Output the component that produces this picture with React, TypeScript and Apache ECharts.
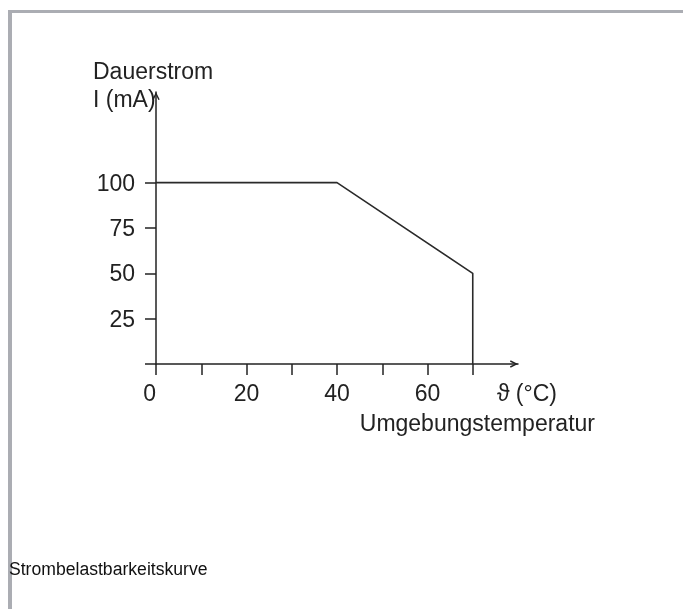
import React, { useEffect, useRef } from "react";
import * as echarts from "echarts";

const temperature = [0, 40, 70, 70];
const current = [100, 100, 50, 0];
const xTickValues = [0, 10, 20, 30, 40, 50, 60, 70];
const xLabelValues = [0, 20, 40, 60];
const yTickValues = [0, 25, 50, 75, 100];
const yLabelValues = [25, 50, 75, 100];
const yName = ["Dauerstrom", "I (mA)"];
const xName = ["ϑ (°C)", "Umgebungstemperatur"];
const caption = "Strombelastbarkeitskurve";

const FONT = "'Liberation Sans', Arial, sans-serif";
const INK = "#222";
const ARROW = "path://M0,10 L5,0 L10,10 L8.2,10.8 L5,4.2 L1.8,10.8 Z";

export default function App() {
  const ref = useRef<HTMLDivElement>(null);
  useEffect(() => {
    if (!ref.current) return;
    const chart = echarts.init(ref.current, null, { renderer: "svg" });
    const data = temperature.map((t, i) => [t, current[i]]);
    chart.setOption({
      animation: false,
      title: {
        text: caption,
        left: 9,
        top: 560,
        padding: 0,
        textStyle: { fontFamily: FONT, fontSize: 17.6, fontWeight: "normal", color: "#111" },
      },
      grid: { left: 156, top: 92, width: 362, height: 272, containLabel: false },
      xAxis: {
        type: "value",
        min: 0,
        max: 80,
        interval: 10,
        name: `{a|${xName[0]}}\n{b|${xName[1]}}`,
        nameLocation: "end",
        nameGap: 77,
        nameMoveOverlap: false,
        nameTextStyle: {
          align: "right",
          verticalAlign: "top",
          padding: [14, 0, 0, 0],
          fontFamily: FONT,
          color: INK,
          rich: {
            a: { fontFamily: FONT, fontSize: 23, lineHeight: 30, color: INK, padding: [0, 38, 0, 0] },
            b: { fontFamily: FONT, fontSize: 23, lineHeight: 30, color: INK },
          },
        },
        axisLine: {
          lineStyle: { color: INK, width: 1.5 },
          symbol: ["none", ARROW],
          symbolSize: [12, 8],
          symbolOffset: [0, -4],
        },
        axisTick: { show: true, length: 11, customValues: xTickValues, lineStyle: { color: INK, width: 1.5 } },
        axisLabel: {
          customValues: xLabelValues,
          margin: 17,
          fontFamily: FONT,
          fontSize: 23,
          color: INK,
          alignMinLabel: "right",
        },
        splitLine: { show: false },
      },
      yAxis: {
        type: "value",
        min: 0,
        max: 150,
        interval: 25,
        name: `{a|${yName[0]}}\n{a|${yName[1]}}`,
        nameLocation: "end",
        nameGap: -21,
        nameMoveOverlap: false,
        nameTextStyle: {
          align: "right",
          verticalAlign: "bottom",
          fontFamily: FONT,
          color: INK,
          rich: {
            a: { fontFamily: FONT, fontSize: 23, lineHeight: 28, width: 63, align: "left", color: INK },
          },
        },
        axisLine: {
          show: true,
          lineStyle: { color: INK, width: 1.5 },
          symbol: ["none", ARROW],
          symbolSize: [12, 8],
          symbolOffset: [0, -4],
        },
        axisTick: { show: true, length: 11, customValues: yTickValues, lineStyle: { color: INK, width: 1.5 } },
        axisLabel: {
          customValues: yLabelValues,
          margin: 21,
          fontFamily: FONT,
          fontSize: 23,
          color: INK,
        },
        splitLine: { show: false },
      },
      series: [
        {
          type: "line",
          data,
          symbol: "none",
          lineStyle: { color: "#2a2a2a", width: 1.6 },
        },
      ],
    });
    return () => chart.dispose();
  }, []);

  return (
    <>
      <div
        style={{
          position: "fixed",
          left: 8,
          top: 10,
          width: 675,
          height: 599,
          borderTop: "3px solid #abadb3",
          borderLeft: "4px solid #abadb3",
          boxSizing: "border-box",
        }}
      />
      <div ref={ref} style={{ position: "fixed", left: 0, top: 0, width: 683, height: 609 }} />
    </>
  );
}
